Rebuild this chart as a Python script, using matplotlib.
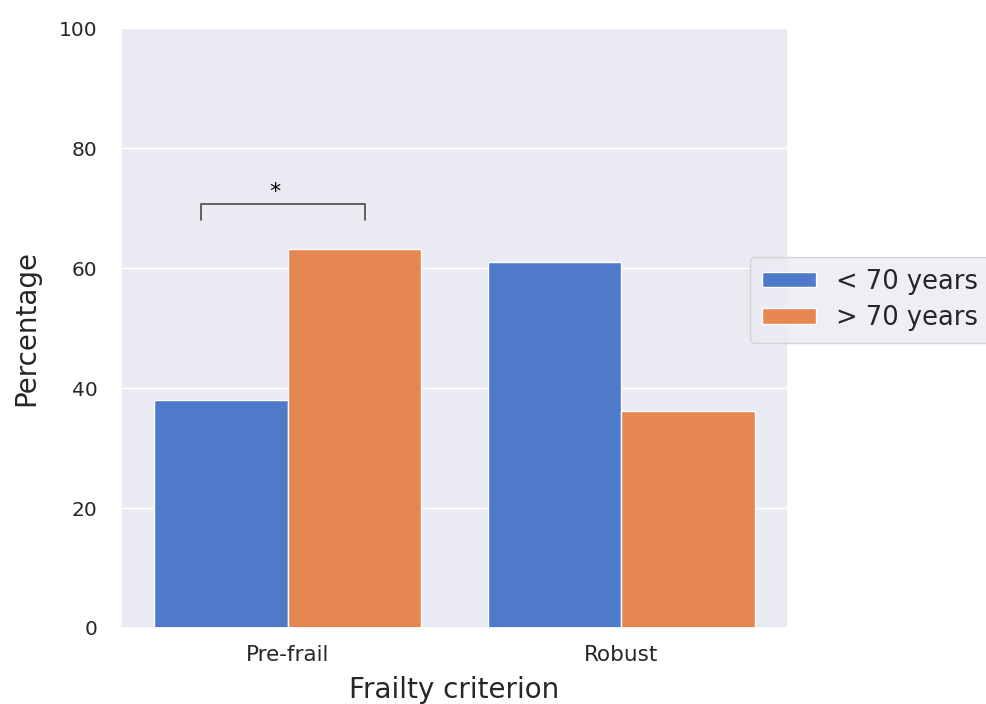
import matplotlib
matplotlib.use("Agg")
import matplotlib.pyplot as plt
import seaborn as sns
import pandas as pd

# data
criteria = ["Pre-frail", "Robust"]
groups = ["< 70 years", "> 70 years"]
under_70 = [38.0, 61.0]
over_70 = [63.2, 36.2]

df = pd.DataFrame({
    "Frailty criterion": criteria * 2,
    "Percentage": under_70 + over_70,
    "Age": [groups[0]] * 2 + [groups[1]] * 2,
})

sns.set_theme(style="darkgrid", palette="muted")
plt.rcParams['font.family'] = ['DejaVu Sans']

fig = plt.figure(figsize=(9.87, 7.04), dpi=100)
ax = fig.add_axes([0.1226, 0.108, 0.676, 0.852])

sns.barplot(data=df, x="Frailty criterion", y="Percentage", hue="Age",
            hue_order=groups, ax=ax, saturation=0.9)

ax.set_ylim(0, 100)
ax.set_xlim(-0.5, 1.5)
ax.tick_params(axis='y', labelsize=14.5, pad=11)
ax.tick_params(axis='x', labelsize=15.5, pad=6)
ax.set_xlabel("Frailty criterion", fontsize=20, labelpad=8)
ax.set_ylabel("Percentage", fontsize=20, labelpad=13)

# significance bracket
x1, x2, y, h = -0.26, 0.23, 68, 2.7
ax.plot([x1, x1, x2, x2], [y, y + h, y + h, y], color="#555555", lw=1.3)
ax.text(-0.04, y + h + 0.3, "*", ha="center", va="bottom",
        fontsize=16, color="black")

ax.legend(loc="center left", bbox_to_anchor=(0.943, 0.547), fontsize=18.5,
          title=None, borderaxespad=0, handlelength=2.1, handleheight=0.55,
          labelspacing=0.4, borderpad=0.45)

fig.savefig("out.png", dpi=100)
